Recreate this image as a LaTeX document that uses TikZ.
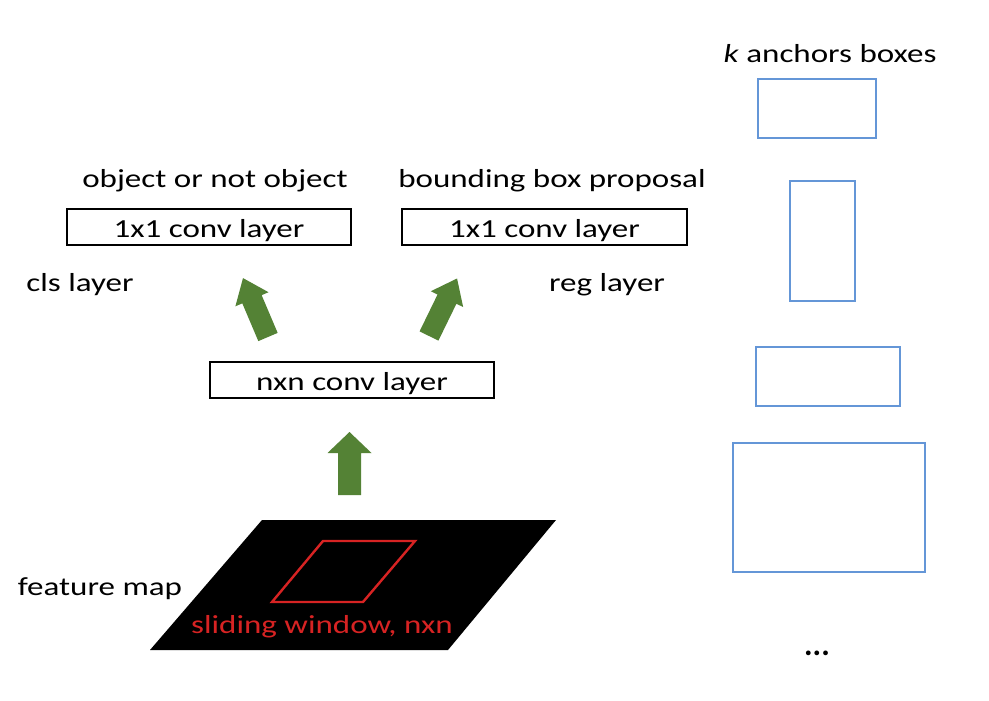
\documentclass[tikz,border=0pt]{standalone}
\usepackage{fontspec}
\setmainfont{Carlito}[FakeStretch=1.27]
\newfontfamily\dotsfont{Carlito}
\definecolor{arrgreen}{RGB}{84,130,53}
\definecolor{anchorblue}{RGB}{100,150,215}
\definecolor{winred}{RGB}{215,35,35}
\begin{document}
\begin{tikzpicture}[x=1pt,y=-1pt,
  lbl/.style={inner sep=0pt,anchor=base,font=\fontsize{26}{30}\selectfont},
  convbox/.style={draw=black,line width=1.6pt,minimum height=36pt,inner sep=0pt,
    text height=20pt,text depth=0pt,font=\fontsize{26}{30}\selectfont},
  anchorbox/.style={draw=anchorblue,line width=2.6pt},
  blockarrow/.style={fill=arrgreen,draw=none}]
\useasboundingbox (0,0) rectangle (989,701);
\fill[white] (0,0) rectangle (989,701);

% conv boxes
\node[convbox,minimum width=284pt] (cls) at (209,227) {1x1 conv layer};
\node[convbox,minimum width=285pt] (reg) at (544.5,227) {1x1 conv layer};
\node[convbox,minimum width=284pt] (nxn) at (352,380) {nxn conv layer};

% labels
\node[lbl] (objlbl) at (215,187) {object or not object};
\node[lbl] (bblbl) at (552,187) {bounding box proposal};
\node[lbl] (clslbl) at (80,291) {cls layer};
\node[lbl] (reglbl) at (607,291) {reg layer};
\node[lbl] (fmlbl) at (100,595) {feature map};
\node[lbl] (klbl) at (830,63) {\textit{k} anchors boxes};

% feature map
\fill[black] (262,520) -- (556,520) -- (448,650) -- (150,650) -- cycle;
\draw[winred,line width=2.4pt,line join=miter] (323,541) -- (415,541) -- (363,602) -- (272,602) -- cycle;
\node[lbl,text=winred] (swlbl) at (322,633) {sliding window, nxn};

% green block arrows
\begin{scope}[shift={(349.5,495)}]
  \fill[blockarrow] (-11.5,0) -- (-11.5,-42) -- (-22,-42) -- (0,-63) -- (22,-42) -- (11.5,-42) -- (11.5,0) -- cycle;
\end{scope}
\begin{scope}[shift={(268,337)},rotate=23]
  \fill[blockarrow] (-10.5,0) -- (-10.5,-41) -- (-18,-41) -- (0,-64) -- (18,-41) -- (10.5,-41) -- (10.5,0) -- cycle;
\end{scope}
\begin{scope}[shift={(429,336)},rotate=-26]
  \fill[blockarrow] (-10.5,0) -- (-10.5,-41) -- (-18,-41) -- (0,-64) -- (18,-41) -- (10.5,-41) -- (10.5,0) -- cycle;
\end{scope}

% anchor boxes
\draw[anchorbox] (758,79) rectangle (876,138);
\draw[anchorbox] (790,181) rectangle (855,301);
\draw[anchorbox] (756,347) rectangle (900,406);
\draw[anchorbox] (733,443) rectangle (925,572);
\node[inner sep=0pt,anchor=base,font=\dotsfont\fontsize{32}{36}\selectfont\bfseries] (dots) at (817,655) {...};
\end{tikzpicture}
\end{document}
